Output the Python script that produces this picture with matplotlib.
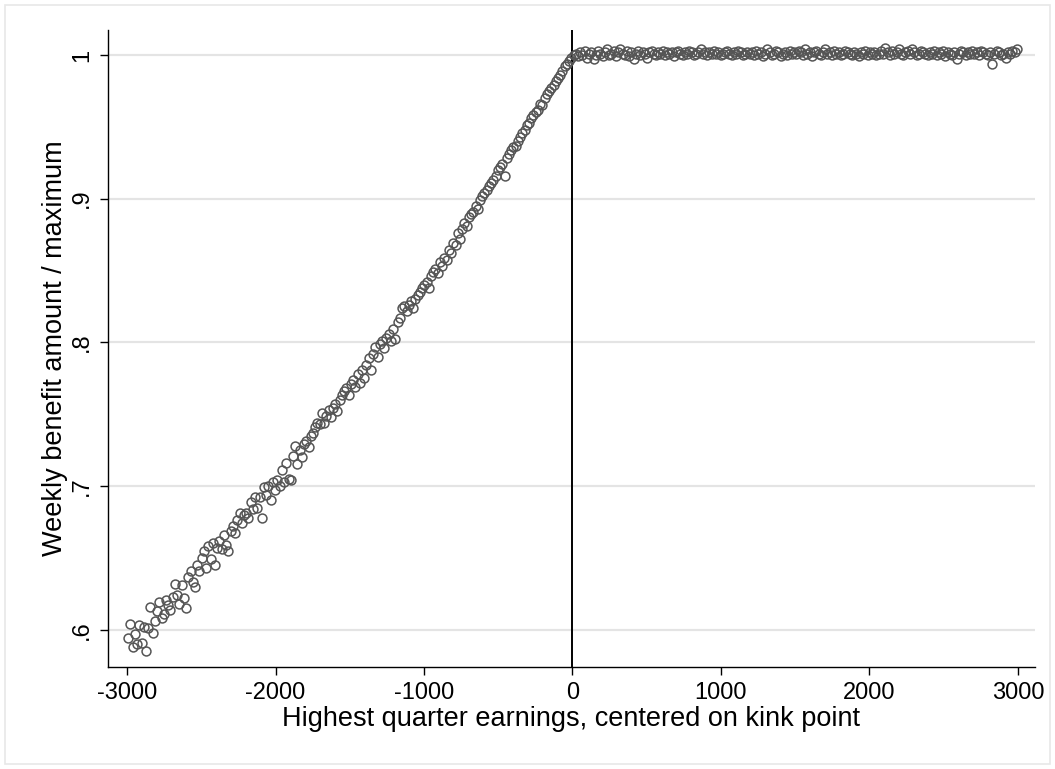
import numpy as np
import matplotlib.pyplot as plt
from matplotlib.patches import Rectangle

# %%
# Data (binned means)
x_left = np.arange(-2992.5, 0, 15)
x_right = np.arange(7.5, 3000, 15)

y_left = [
    0.594, 0.604, 0.588, 0.597, 0.590, 0.603, 0.591, 0.602, 0.585, 0.601,
    0.616, 0.598, 0.606, 0.613, 0.619, 0.608, 0.611, 0.621, 0.617, 0.614,
    0.623, 0.632, 0.624, 0.618, 0.631, 0.622, 0.615, 0.637, 0.641, 0.633,
    0.630, 0.645, 0.641, 0.650, 0.655, 0.643, 0.658, 0.649, 0.660, 0.645,
    0.657, 0.662, 0.656, 0.666, 0.659, 0.655, 0.669, 0.672, 0.667, 0.676,
    0.681, 0.674, 0.680, 0.681, 0.678, 0.689, 0.684, 0.692, 0.685, 0.692,
    0.678, 0.699, 0.694, 0.700, 0.690, 0.703, 0.697, 0.704, 0.700, 0.711,
    0.703, 0.716, 0.705, 0.704, 0.721, 0.728, 0.715, 0.725, 0.720, 0.729,
    0.731, 0.727, 0.735, 0.737, 0.741, 0.744, 0.743, 0.751, 0.744, 0.749,
    0.753, 0.748, 0.754, 0.757, 0.752, 0.760, 0.763, 0.766, 0.768, 0.763,
    0.771, 0.774, 0.769, 0.778, 0.772, 0.781, 0.775, 0.784, 0.789, 0.781,
    0.792, 0.797, 0.790, 0.799, 0.801, 0.796, 0.803, 0.806, 0.801, 0.809,
    0.802, 0.814, 0.817, 0.824, 0.825, 0.822, 0.826, 0.829, 0.824, 0.830,
    0.833, 0.835, 0.838, 0.840, 0.842, 0.838, 0.846, 0.849, 0.851, 0.848,
    0.856, 0.853, 0.859, 0.857, 0.864, 0.862, 0.869, 0.868, 0.876, 0.872,
    0.879, 0.883, 0.881, 0.887, 0.889, 0.891, 0.895, 0.893, 0.899, 0.902,
    0.904, 0.906, 0.909, 0.911, 0.913, 0.916, 0.920, 0.922, 0.924, 0.916,
    0.928, 0.931, 0.934, 0.936, 0.937, 0.940, 0.943, 0.946, 0.948, 0.951,
    0.953, 0.956, 0.958, 0.960, 0.962, 0.966, 0.965, 0.970, 0.973, 0.975,
    0.977, 0.979, 0.982, 0.984, 0.986, 0.989, 0.992, 0.994, 0.996, 0.998,
]

y_right = [
    1.000, 1.001, 0.999, 1.002, 1.000, 1.003, 0.998, 1.001, 1.002, 0.997,
    1.000, 1.003, 1.001, 0.999, 1.002, 1.004, 1.000, 1.001, 1.003, 0.999,
    1.002, 1.004, 1.001, 1.000, 1.003, 0.999, 1.002, 0.997, 1.001, 1.003,
    1.000, 1.002, 1.001, 0.998, 1.002, 1.003, 1.001, 1.000, 1.002, 1.001,
    1.003, 1.000, 1.002, 1.001, 1.002, 0.999, 1.002, 1.003, 1.001, 1.000,
    1.002, 1.001, 1.003, 1.002, 1.000, 1.001, 1.002, 1.004, 1.001, 1.002,
    1.000, 1.002, 1.001, 1.003, 1.001, 1.002, 1.000, 1.001, 1.002, 1.003,
    1.001, 1.000, 1.002, 1.001, 1.003, 1.002, 1.000, 1.001, 1.002, 1.001,
    1.002, 1.000, 1.003, 1.001, 1.002, 0.999, 1.001, 1.004, 1.002, 1.000,
    1.001, 1.003, 1.002, 0.999, 1.001, 1.002, 1.000, 1.003, 1.001, 1.002,
    1.001, 1.003, 1.002, 1.000, 1.004, 1.001, 1.002, 0.999, 1.002, 1.003,
    1.001, 1.000, 1.002, 1.004, 1.001, 1.002, 1.000, 1.003, 1.001, 1.002,
    1.000, 1.001, 1.003, 1.002, 1.001, 1.000, 1.002, 1.001, 0.999, 1.002,
    1.001, 1.003, 1.000, 1.002, 1.001, 1.002, 1.000, 1.001, 1.003, 1.001,
    1.005, 1.002, 1.000, 1.003, 1.001, 1.002, 1.004, 1.001, 1.000, 1.002,
    1.003, 1.001, 1.004, 1.002, 1.000, 1.001, 1.003, 1.002, 1.001, 1.000,
    1.002, 1.001, 1.003, 1.000, 1.002, 1.001, 1.003, 0.999, 1.002, 1.001,
    1.000, 1.002, 0.997, 1.001, 1.003, 1.002, 1.000, 1.002, 1.001, 1.003,
    1.001, 1.002, 1.000, 1.003, 1.002, 1.001, 1.000, 1.002, 0.994, 1.001,
    1.003, 1.002, 1.000, 1.001, 0.998, 1.002, 1.001, 1.003, 1.002, 1.004,
]

x_ticks = [-3000, -2000, -1000, 0, 1000, 2000, 3000]
y_ticks = [0.6, 0.7, 0.8, 0.9, 1.0]
y_ticklabels = [".6", ".7", ".8", ".9", "1"]

# %%
# Plot
plt.rcParams["font.family"] = ["Liberation Sans", "DejaVu Sans"]

fig = plt.figure(figsize=(10.55, 7.69), dpi=100)
ax = fig.add_axes([0.1024, 0.1326, 0.8786, 0.8284])

# outer frame, Stata style
fig.patches.append(
    Rectangle((0.005, 0.006), 0.99, 0.988, transform=fig.transFigure,
              fill=False, edgecolor="#e8e8e8", linewidth=1.2)
)

for yt in y_ticks:
    ax.axhline(yt, color="#e4e4e4", linewidth=1.6, zorder=0)

ax.axvline(0, color="black", linewidth=1.4, zorder=1)

ax.plot(x_left, y_left, "o", markersize=6.4, markerfacecolor="none",
        markeredgecolor="#555555", markeredgewidth=1.1, zorder=2)
ax.plot(x_right, y_right, "o", markersize=6.4, markerfacecolor="none",
        markeredgecolor="#555555", markeredgewidth=1.1, zorder=2)

ax.set_xlim(-3128, 3115)
ax.set_ylim(0.574, 1.0174)

ax.set_xticks(x_ticks)
ax.set_xticklabels([str(v) for v in x_ticks], fontsize=17)
ax.set_yticks(y_ticks)
ax.set_yticklabels(y_ticklabels, fontsize=17, rotation=90, va="center")

ax.spines["top"].set_visible(False)
ax.spines["right"].set_visible(False)
ax.spines["left"].set_linewidth(1.0)
ax.spines["bottom"].set_linewidth(1.0)
ax.tick_params(direction="out", length=6, width=1.0, pad=5)

ax.set_xlabel("Highest quarter earnings, centered on kink point", fontsize=19.5, labelpad=1)
ax.set_ylabel("Weekly benefit amount / maximum", fontsize=19.5, labelpad=2)

fig.savefig("out.png", dpi=100)
